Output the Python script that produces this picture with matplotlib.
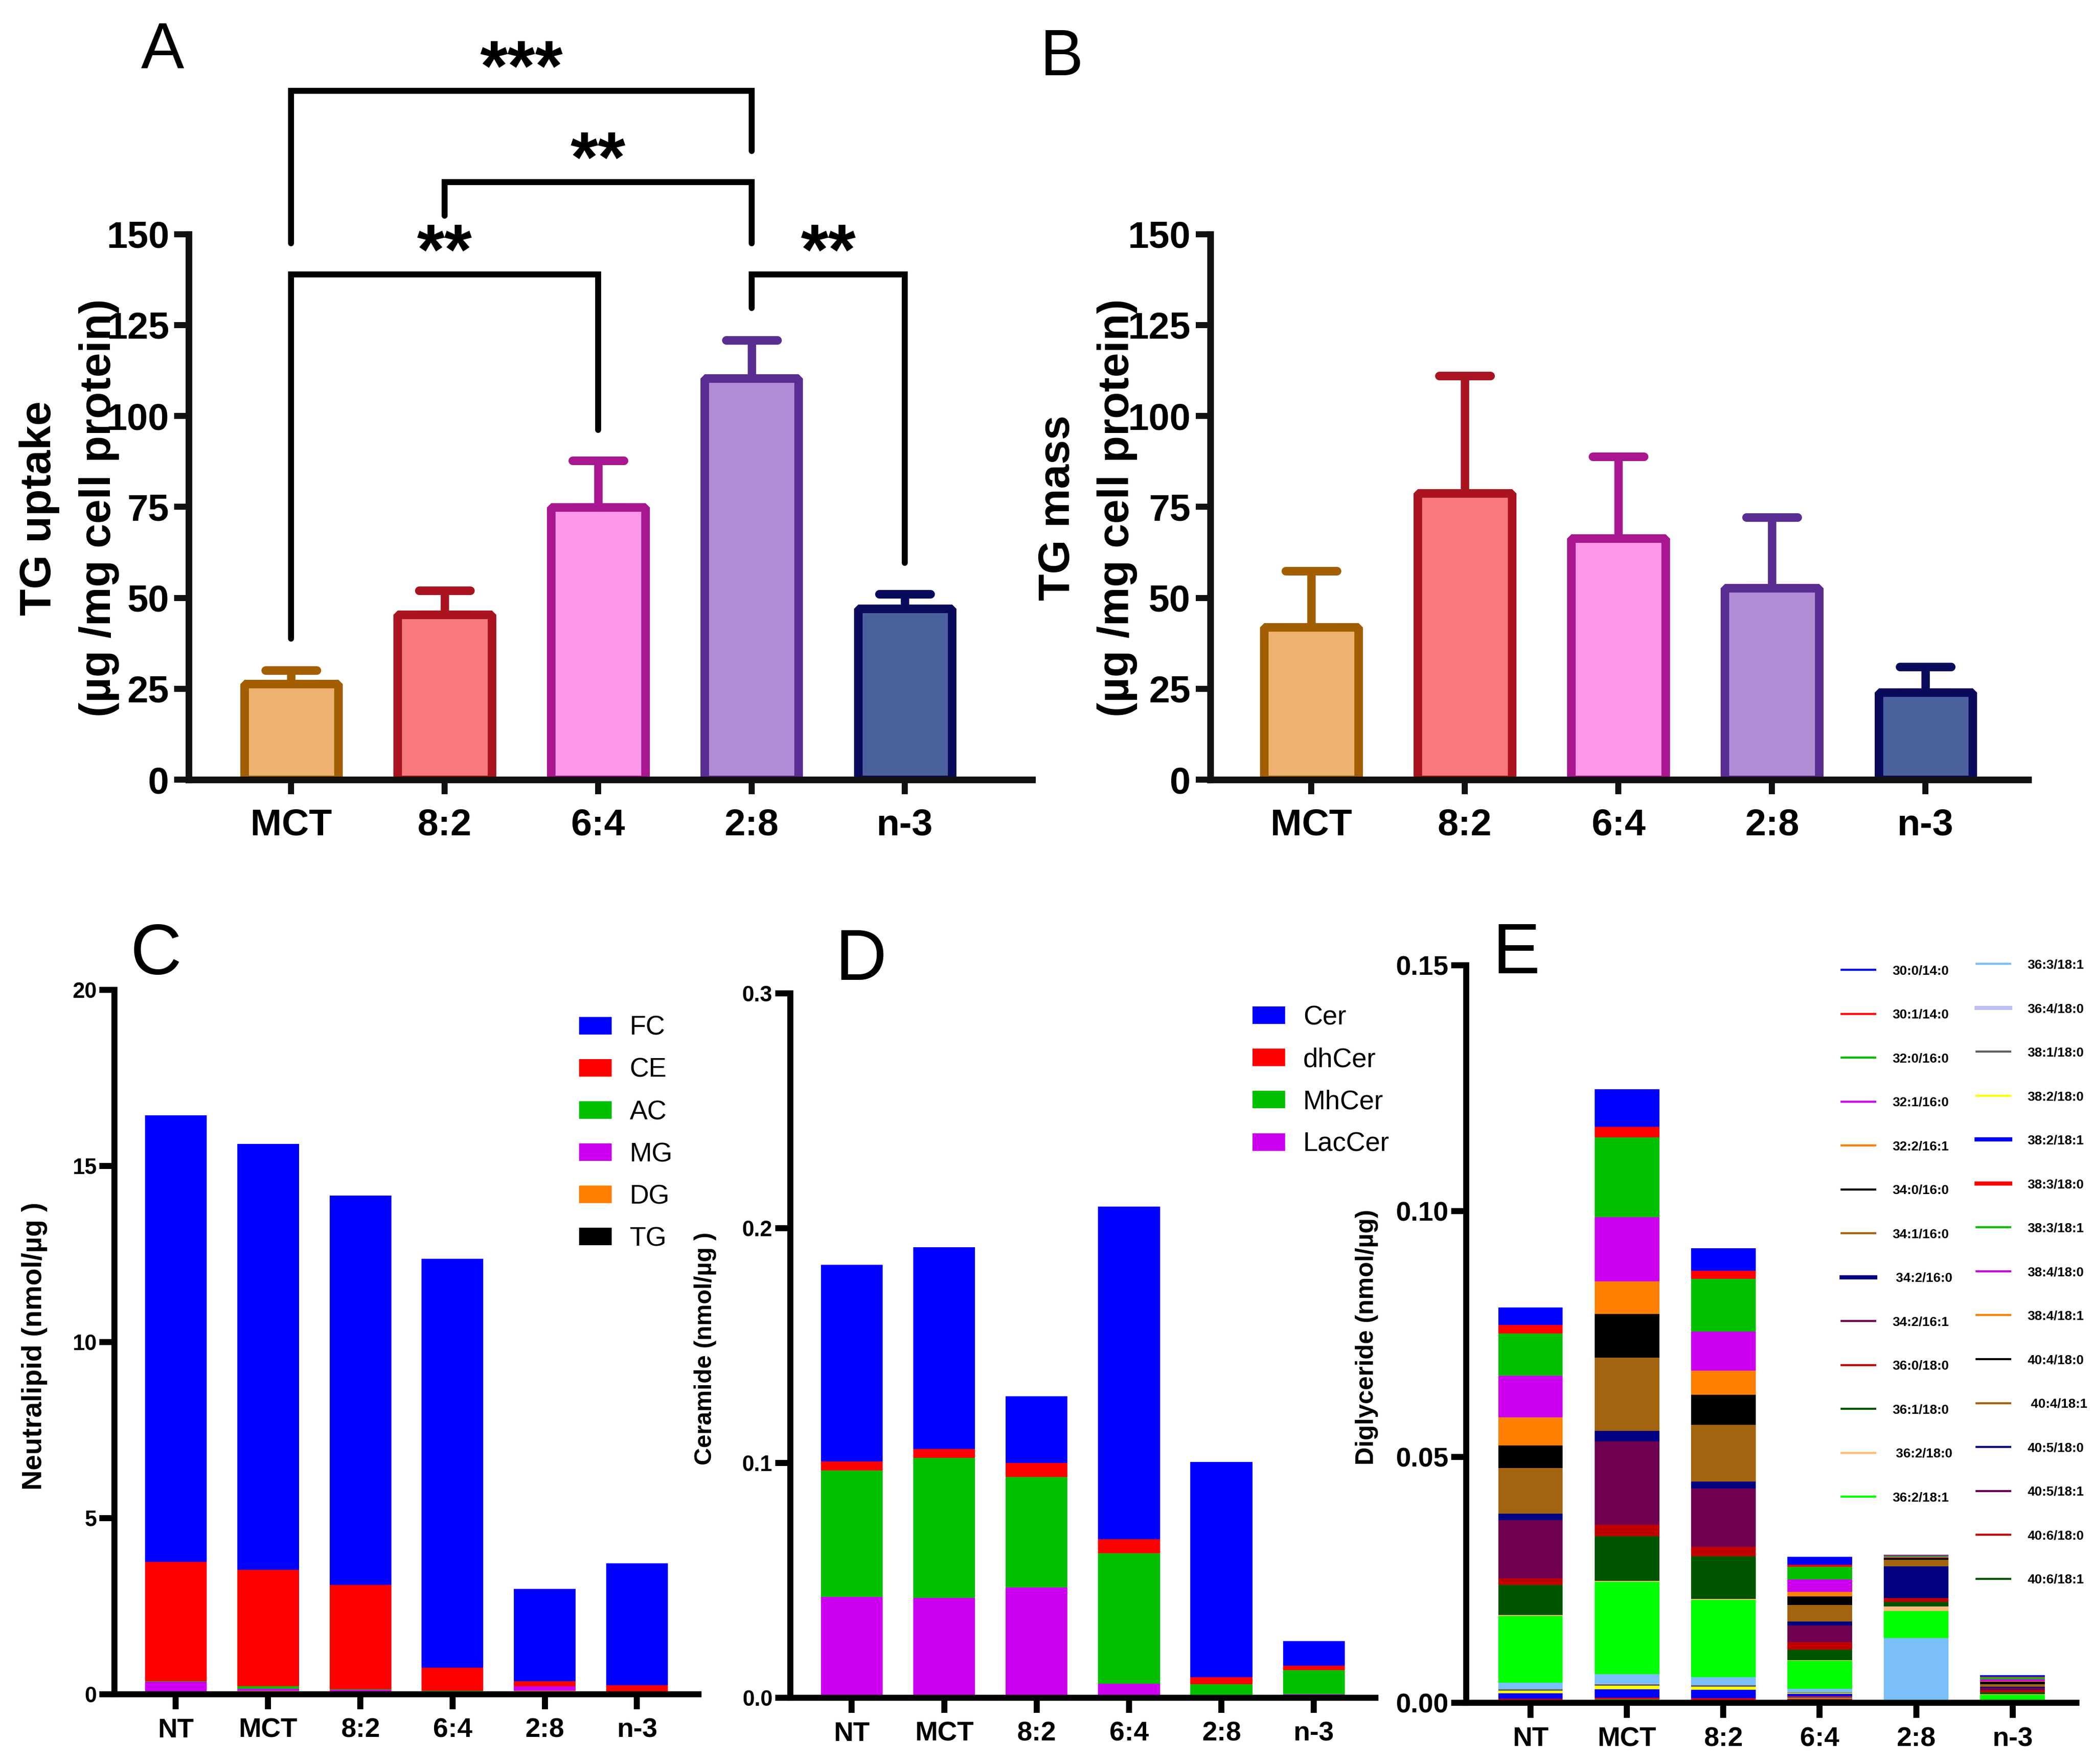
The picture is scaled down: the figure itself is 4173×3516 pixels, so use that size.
import numpy as np
import matplotlib.pyplot as plt
from matplotlib.lines import Line2D
from matplotlib.markers import MarkerStyle

plt.rcParams['font.family'] = ['Liberation Sans', 'DejaVu Sans']

# ---- data, panels A and B ----
groups_ab = ["MCT", "8:2", "6:4", "2:8", "n-3"]
tg_uptake = [26.3, 45.4, 74.9, 110.4, 47.1]
tg_uptake_err = [3.8, 6.6, 12.9, 10.5, 3.9]
tg_mass = [41.9, 78.7, 66.4, 52.7, 24.0]
tg_mass_err = [15.5, 32.3, 22.5, 19.5, 7.1]

# significance pairs in panel A: (left group, right group, label)
sig_pairs = [(0, 3, "***"), (1, 3, "**"), (0, 2, "**"), (3, 4, "**")]
# bracket top, left leg end, right leg end (data units)
sig_geom = [(189.4, 147.4, 172.8), (164.3, 155.1, 147.4),
            (138.9, 38.8, 96.1), (138.9, 129.7, 59.6)]

# ---- data, panels C, D, E ----
groups = ["NT", "MCT", "8:2", "6:4", "2:8", "n-3"]

neutral_names = ["FC", "CE", "AC", "MG", "DG", "TG"]
neutral_vals = [
    [12.68, 12.10, 11.06, 11.61, 2.62, 3.46],   # FC
    [3.39, 3.31, 2.96, 0.65, 0.14, 0.22],       # CE
    [0.01, 0.07, 0.01, 0.04, 0.01, 0.01],       # AC
    [0.29, 0.06, 0.06, 0.02, 0.13, 0.01],       # MG
    [0.05, 0.07, 0.05, 0.02, 0.01, 0.01],       # DG
    [0.02, 0.02, 0.02, 0.02, 0.08, 0.01],       # TG
]

cer_names = ["Cer", "dhCer", "MhCer", "LacCer"]
cer_vals = [
    [0.0838, 0.0860, 0.0284, 0.1418, 0.0917, 0.0104],
    [0.0038, 0.0038, 0.0060, 0.0060, 0.0029, 0.0019],
    [0.0539, 0.0597, 0.0469, 0.0554, 0.0053, 0.0104],
    [0.0429, 0.0424, 0.0470, 0.0060, 0.0005, 0.0014],
]

dg_names = ["30:0/14:0", "30:1/14:0", "32:0/16:0", "32:1/16:0", "32:2/16:1",
            "34:0/16:0", "34:1/16:0", " 34:2/16:0", "34:2/16:1", "36:0/18:0",
            "36:1/18:0", " 36:2/18:0", "36:2/18:1",
            "36:3/18:1", "36:4/18:0", "38:1/18:0", "38:2/18:0", "38:2/18:1",
            "38:3/18:0", "38:3/18:1", "38:4/18:0", "38:4/18:1", "40:4/18:0",
            " 40:4/18:1", "40:5/18:0", "40:5/18:1", "40:6/18:0", "40:6/18:1"]
dg_vals = [
    [0.0036, 0.0076, 0.0046, 0.0016, 0.0001, 0.00027],
    [0.0017, 0.0022, 0.0016, 0.0004, 0.0001, 0.0001],
    [0.0086, 0.0162, 0.0107, 0.0026, 0.0002, 0.0004],
    [0.0085, 0.0130, 0.0080, 0.0025, 0.0001, 0.00044],
    [0.0057, 0.0067, 0.0049, 0.0009, 0.0001, 0.0001],
    [0.0046, 0.0089, 0.0061, 0.0018, 0.0004, 0.00048],
    [0.0093, 0.0149, 0.0116, 0.0033, 0.0013, 0.00055],
    [0.0013, 0.0021, 0.0014, 0.0008, 0.0064, 0.00017],
    [0.0118, 0.0169, 0.0118, 0.0034, 0.0001, 0.0005],
    [0.0014, 0.0024, 0.0020, 0.0015, 0.0007, 0.0004],
    [0.0061, 0.0091, 0.0086, 0.0022, 0.0010, 0.0005],
    [0.0002, 0.0002, 0.0002, 0.00014, 0.0009, 0.00002],
    [0.0136, 0.0187, 0.0157, 0.0057, 0.0055, 0.00116],
    [0.0013, 0.0020, 0.0017, 0.0007, 0.0130, 0.0001],
    [0.00003, 0.00003, 0.00003, 0.00002, 0.00002, 0.00002],
    [0.0003, 0.0004, 0.0003, 0.0001, 0.00002, 0.00007],
    [0.0005, 0.0007, 0.0006, 0.0002, 0.00002, 0.00002],
    [0.0011, 0.0017, 0.0017, 0.0005, 0.00002, 0.00014],
    [0.00024, 0.00027, 0.0003, 0.00017, 0.00002, 0.0001],
    [0.00014, 0.0002, 0.00017, 0.00013, 0.00001, 0.00001],
    [0.0001, 0.0002, 0.0001, 0.00013, 0.00001, 0.00001],
    [0.00024, 0.00027, 0.00027, 0.00015, 0.00001, 0.00001],
    [0.00002, 0.00002, 0.00002, 0.00012, 0.00001, 0.00001],
    [0.00002, 0.00002, 0.00002, 0.00012, 0.00001, 0.00001],
    [0.00002, 0.00002, 0.00002, 0.00012, 0.00001, 0.00001],
    [0.00002, 0.00002, 0.00002, 0.00012, 0.00001, 0.00001],
    [0.00002, 0.00002, 0.00002, 0.00018, 0.00001, 0.00001],
    [0.00002, 0.00002, 0.00002, 0.00010, 0.00001, 0.00001],
]

# ---- colours ----
ab_fill = ["#EDB26F", "#F8797E", "#FD97EA", "#B08CD5", "#4B619E"]
ab_edge = ["#A35E00", "#AA1420", "#A8178F", "#5A2D92", "#0A0A5C"]
neutral_colors = ["#0000FF", "#FF0000", "#00C000", "#CC00EE", "#FF8000", "#000000"]
cer_colors = ["#0000FF", "#FF0000", "#00C000", "#CC00EE"]
dg_colors = ["#0000FF", "#FF0000", "#00C000", "#CC00EE", "#FF8000", "#000000",
             "#A36410", "#000080", "#6E004F", "#BF0000", "#005500", "#FFBB77",
             "#00FF00", "#7ABFFA", "#C0C0F5", "#5F5F5F", "#FFFF00", "#0000FF",
             "#FF0000", "#00C000", "#CC00EE", "#FF8000", "#000000", "#A36410",
             "#000080", "#6E004F", "#BF0000", "#005500"]
dg_lw = [1.0] * 28
for k in (7, 14, 17, 18):
    dg_lw[k] = 2.0

W, H = 4173, 3516
fig = plt.figure(figsize=(W / 300, H / 300), dpi=300)
AXCOL = "#111111"


def bold_ticks(ax, xsize, ysize):
    for t in ax.get_xticklabels():
        t.set_fontweight('bold')
        t.set_fontsize(xsize)
    for t in ax.get_yticklabels():
        t.set_fontweight('bold')
        t.set_fontsize(ysize)


def bar_panel(ax, values, errs, xlim):
    x = np.arange(len(groups_ab))
    for i in range(len(x)):
        _, caps, _ = ax.errorbar(x[i], values[i], yerr=[[0], [errs[i]]],
                                 fmt='none', ecolor=ab_edge[i], elinewidth=4.0,
                                 capsize=12.2, capthick=4.1, zorder=1)
        for c in caps:
            c.set_marker(MarkerStyle('_', capstyle='round'))
    ax.bar(x, values, width=0.613, color=ab_fill, edgecolor=ab_edge,
           linewidth=4.1, joinstyle='bevel', zorder=2)
    ax.set_xlim(*xlim)
    ax.set_ylim(0, 150)
    ax.set_yticks(np.arange(0, 151, 25))
    ax.set_xticks(x, groups_ab)
    for s in ('top', 'right'):
        ax.spines[s].set_visible(False)
    for s in ('left', 'bottom'):
        ax.spines[s].set_linewidth(3.2)
        ax.spines[s].set_color(AXCOL)
    ax.tick_params(width=2.9, length=7.0, color=AXCOL)
    ax.tick_params(axis='y', pad=2.4)
    ax.tick_params(axis='x', pad=6.5)
    bold_ticks(ax, 18, 18)


def stack_panel(ax, names, vals, colors, ylim, yticks, yfmt, ysize):
    x = np.arange(len(groups))
    bottom = np.zeros(len(groups))
    handles = [None] * len(names)
    for k in range(len(names) - 1, -1, -1):
        handles[k] = ax.bar(x, vals[k], width=0.67, bottom=bottom,
                            color=colors[k], linewidth=0, label=names[k])
        bottom = bottom + np.array(vals[k])
    ax.set_xlim(-0.665, 5.665)
    ax.set_ylim(*ylim)
    ax.set_yticks(yticks, [yfmt.format(v) for v in yticks])
    ax.set_xticks(x, groups)
    for s in ('top', 'right'):
        ax.spines[s].set_visible(False)
    for s in ('left', 'bottom'):
        ax.spines[s].set_linewidth(2.9)
    ax.tick_params(width=2.9, length=7.3)
    ax.tick_params(axis='y', pad=1.2)
    ax.tick_params(axis='x', pad=4)
    bold_ticks(ax, 13, ysize)
    return handles


# ---- panel A ----
axA = fig.add_axes([0.0902, 0.558, 0.4028, 0.3093])
bar_panel(axA, tg_uptake, tg_uptake_err, (-0.667, 4.83))
for (i, j, lab), (ytop, yl, yr) in zip(sig_pairs, sig_geom):
    axA.plot([i, i, j, j], [yl, ytop, ytop, yr], color='black', lw=2.85,
             clip_on=False, solid_joinstyle='miter', solid_capstyle='round')
    axA.text((i + j) / 2, ytop + 0.2, lab, ha='center', va='baseline',
             fontsize=34, fontweight='bold', clip_on=False)

# ---- panel B ----
axB = fig.add_axes([0.578, 0.558, 0.3907, 0.3093])
bar_panel(axB, tg_mass, tg_mass_err, (-0.657, 4.67))

fig.text(0.0189, 0.712, "TG uptake", rotation=90, ha='center', va='center',
         fontsize=21, fontweight='bold')
fig.text(0.0474, 0.712, "(µg /mg cell protein)", rotation=90, ha='center',
         va='center', fontsize=21, fontweight='bold')
fig.text(0.5052, 0.712, "TG mass", rotation=90, ha='center', va='center',
         fontsize=21, fontweight='bold')
fig.text(0.5335, 0.712, "(µg /mg cell protein)", rotation=90, ha='center',
         va='center', fontsize=21, fontweight='bold')

# ---- panel C ----
axC = fig.add_axes([0.0547, 0.0396, 0.2788, 0.3992])
hC = stack_panel(axC, neutral_names, neutral_vals, neutral_colors, (0, 20),
                 [0, 5, 10, 15, 20], "{:g}", 10.5)
axC.legend(hC, neutral_names, loc='upper left', bbox_to_anchor=(0.2765, 0.4244),
           bbox_transform=fig.transFigure, frameon=False, fontsize=12.8,
           handlelength=1.22, handleheight=0.63, handletextpad=0.67,
           labelspacing=0.64, borderpad=0, borderaxespad=0)
fig.text(0.0166, 0.2368, "Neutralipid (nmol/µg )", rotation=90, ha='center',
         va='center', fontsize=13.4, fontweight='bold')

# ---- panel D ----
axD = fig.add_axes([0.3774, 0.0376, 0.2794, 0.3993])
hD = stack_panel(axD, cer_names, cer_vals, cer_colors, (0, 0.3),
                 [0.0, 0.1, 0.2, 0.3], "{:.1f}", 10.5)
axD.legend(hD, cer_names, loc='upper left', bbox_to_anchor=(0.5982, 0.4302),
           bbox_transform=fig.transFigure, frameon=False, fontsize=12.8,
           handlelength=1.22, handleheight=0.63, handletextpad=0.67,
           labelspacing=0.64, borderpad=0, borderaxespad=0)
fig.text(0.3369, 0.2356, "Ceramide (nmol/µg )", rotation=90, ha='center',
         va='center', fontsize=11.6, fontweight='bold')

# ---- panel E ----
axE = fig.add_axes([0.7003, 0.0346, 0.2914, 0.4181])
stack_panel(axE, dg_names, dg_vals, dg_colors, (0, 0.15),
            [0.0, 0.05, 0.10, 0.15], "{:.2f}", 13)
lines = [Line2D([0], [0], color=c, lw=w) for c, w in zip(dg_colors, dg_lw)]
fs_leg = 6.3
leg_kw = dict(bbox_transform=fig.transFigure, frameon=False,
              prop={'size': fs_leg, 'weight': 'bold'},
              handlelength=2.76 * 5.8 / fs_leg,
              handletextpad=1.43 * 5.8 / fs_leg,
              labelspacing=(21.1 - 0.93 * fs_leg) / fs_leg, borderpad=0,
              borderaxespad=0, loc='upper left')
leg1 = axE.legend(lines[:13], dg_names[:13], bbox_to_anchor=(0.8795, 0.4530),
                  **leg_kw)
axE.add_artist(leg1)
axE.legend(lines[13:], dg_names[13:], bbox_to_anchor=(0.9439, 0.4563), **leg_kw)
fig.text(0.6527, 0.2419, "Diglyceride (nmol/µg)", rotation=90, ha='center',
         va='center', fontsize=12, fontweight='bold')

# ---- panel letters ----
for lab, x, y, s in [("A", 0.0777, 0.9612, 31), ("B", 0.507, 0.9572, 31),
                     ("C", 0.0746, 0.4478, 34), ("D", 0.411, 0.4445, 34),
                     ("E", 0.7242, 0.4481, 34)]:
    fig.text(x, y, lab, ha='center', va='baseline', fontsize=s)

fig.savefig("out.png", dpi=300)
